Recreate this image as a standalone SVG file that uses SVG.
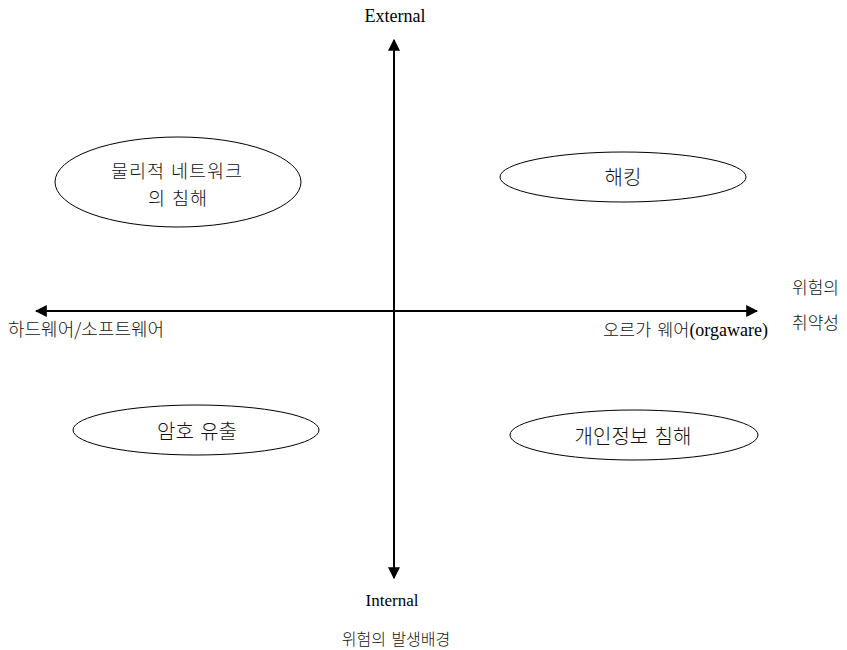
<svg xmlns="http://www.w3.org/2000/svg" width="847" height="650" viewBox="0 0 847 650">
<style>
.ax{stroke:#000;stroke-width:2;fill:none}
.el{fill:#fff;stroke:#000;stroke-width:1}
.ko{font-family:"Noto Sans CJK KR","Noto Sans",sans-serif;font-weight:300;fill:#111}
.en{font-family:"Liberation Serif",serif;fill:#000}
.big{font-size:20px;word-spacing:2px}
.two{font-size:18.5px;letter-spacing:1px;word-spacing:1px}
</style>
<defs>
<marker id="ah" viewBox="0 0 10 10" refX="9" refY="5" markerWidth="6" markerHeight="6" orient="auto-start-reverse">
<path d="M0,0 L10,5 L0,10 z" fill="#000"/>
</marker>
</defs>
<rect width="847" height="650" fill="#fff"/>
<g id="connectors">
<line class="ax" x1="394" y1="578" x2="394" y2="40" marker-start="url(#ah)" marker-end="url(#ah)"/>
<line class="ax" x1="36" y1="311" x2="757" y2="311" marker-start="url(#ah)" marker-end="url(#ah)"/>
</g>
<g id="n1">
<ellipse class="el" cx="178" cy="182" rx="123" ry="45"/>
<text class="ko two" x="177" y="178" text-anchor="middle">물리적 네트워크</text>
<text class="ko two" x="178" y="205" text-anchor="middle">의 침해</text>
</g>
<g id="n2">
<ellipse class="el" cx="623" cy="177" rx="123" ry="25"/>
<text class="ko big" x="623" y="185" text-anchor="middle">해킹</text>
</g>
<g id="n3">
<ellipse class="el" cx="196" cy="430" rx="123" ry="25"/>
<text class="ko big" x="197" y="439" text-anchor="middle">암호 유출</text>
</g>
<g id="n4">
<ellipse class="el" cx="634" cy="435" rx="124" ry="25"/>
<text class="ko big" x="633" y="444" text-anchor="middle">개인정보 침해</text>
</g>
<g id="labels">
<text class="en" x="395" y="22" font-size="18" text-anchor="middle">External</text>
<text class="en" x="392" y="606" font-size="17" text-anchor="middle">Internal</text>
<text class="ko" x="396" y="645" font-size="16" word-spacing="2" text-anchor="middle">위험의 발생배경</text>
<text class="ko" x="8" y="336" font-size="18">하드웨어/소프트웨어</text>
<text x="603" y="336"><tspan class="ko" font-size="17.5" word-spacing="2">오르가 웨어</tspan><tspan class="en" font-size="18">(orgaware)</tspan></text>
<text class="ko" x="792" y="294" font-size="17">위험의</text>
<text class="ko" x="792" y="329" font-size="17">취약성</text>
</g>
</svg>
